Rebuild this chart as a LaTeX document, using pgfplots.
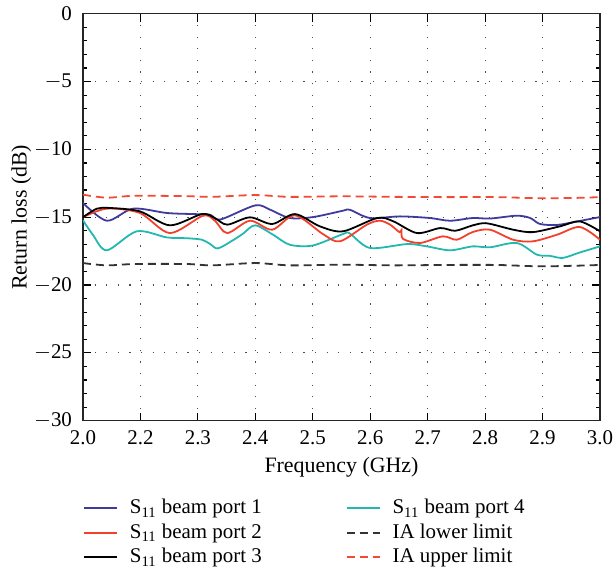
\documentclass[border=0pt]{standalone}
\usepackage{pgfplots}
\pgfplotsset{compat=1.18}
\usepackage{fontspec}
\setmainfont{Liberation Serif}
\definecolor{portone}{HTML}{3F3A9C}
\definecolor{porttwo}{HTML}{F2402B}
\definecolor{portfour}{HTML}{22B8B0}
\definecolor{lowlim}{HTML}{333333}
\definecolor{uplim}{HTML}{F24A33}

\begin{document}
\begin{tikzpicture}[trim right=(rt)]
\begin{axis}[
    scale only axis, width=258.5bp, height=203.5bp,
    xmin=2, xmax=3, ymin=-30, ymax=0,
    xtick={2,2.1111,2.2222,2.3333,2.4444,2.5556,2.6667,2.7778,2.8889,3},
    xticklabels={2.0,2.2,2.3,2.4,2.5,2.6,2.7,2.8,2.9,3.0},
    ytick={-30,-25,-20,-15,-10,-5,0},
    yticklabels={$-$30,$-$25,$-$20,$-$15,$-$10,$-$5,0},
    minor x tick num=4, minor y tick num=4,
    tick align=inside, tick pos=both,
    major tick length=4bp, minor tick length=2bp,
    every tick/.style={black, line width=0.6pt},
    axis line style={line width=0.7pt, black!85},
    grid=major,
    major grid style={black!70, line width=0.6pt, dash pattern=on 0.6bp off 5.2bp},
    tick label style={font=\fontsize{10.5}{12}\selectfont},
    xticklabel style={yshift=-1.5bp},
    yticklabel style={xshift=-2bp},
    label style={font=\fontsize{11}{13}\selectfont},
    xlabel={Frequency (GHz)},
    ylabel={Return loss (dB)},
    xlabel style={yshift=0.5bp},
    ylabel style={yshift=-5.5bp},
    every axis plot/.append style={line width=0.9pt, smooth, tension=0.5},
    legend columns=2,
    legend cell align=left,
    legend style={at={(-0.012,-0.173)}, anchor=north west, draw=none, fill=none,
      font=\fontsize{10.5}{12}\selectfont, row sep=-0.5bp,
      /tikz/every odd column/.append style={column sep=4bp},
      /tikz/every even column/.append style={column sep=40bp}},
    legend image code/.code={\draw[#1] (0bp,0bp) -- (16.5bp,0bp);},
]
% plots are listed so that the two-column legend reads column by column
\addplot[color=portone] coordinates {
(2.000,-13.95) (2.046,-15.26) (2.097,-14.37) (2.162,-14.69) (2.213,-14.77)
(2.246,-14.82) (2.265,-15.18) (2.333,-14.13) (2.362,-14.45) (2.400,-15.06)
(2.445,-14.99) (2.503,-14.52) (2.516,-14.45) (2.555,-15.06) (2.613,-14.94)
(2.671,-15.06) (2.710,-15.26) (2.754,-15.06) (2.787,-15.10) (2.839,-14.89)
(2.865,-15.06) (2.884,-15.50) (2.917,-15.57) (2.956,-15.31) (3.000,-14.99)};
\addlegendentry{S\textsubscript{11} beam port 1}
\addplot[color=portfour] coordinates {
(2.000,-15.23) (2.019,-16.29) (2.046,-17.44) (2.104,-16.04) (2.162,-16.49)
(2.201,-16.55) (2.230,-16.66) (2.246,-16.98) (2.261,-17.30) (2.290,-16.70)
(2.310,-16.20) (2.333,-15.60)
(2.368,-16.30) (2.400,-17.03) (2.445,-17.08) (2.503,-16.24) (2.516,-16.20)
(2.555,-17.27) (2.627,-16.98) (2.665,-17.15) (2.710,-17.44) (2.754,-17.15)
(2.787,-17.22) (2.839,-16.90) (2.878,-17.76) (2.903,-17.85) (2.928,-18.00)
(2.961,-17.60) (3.000,-17.15)};
\addlegendentry{S\textsubscript{11} beam port 4}
\addplot[color=porttwo] coordinates {
(2.000,-15.00) (2.046,-14.37) (2.110,-14.69) (2.168,-16.17) (2.232,-14.89)
(2.255,-15.26) (2.279,-16.17) (2.323,-15.26) (2.366,-15.92) (2.410,-14.86)
(2.464,-16.24) (2.497,-16.78) (2.549,-15.55) (2.574,-15.26) (2.594,-15.55)
(2.612,-16.10) (2.616,-15.95) (2.619,-16.60) (2.652,-16.90) (2.696,-16.41)
(2.723,-16.66) (2.754,-16.09) (2.787,-15.92) (2.832,-16.66) (2.870,-16.78)
(2.917,-16.29) (2.961,-15.72) (3.000,-16.66)};
\addlegendentry{S\textsubscript{11} beam port 2}
\addplot[color=lowlim, dash pattern=on 4bp off 2.5bp] coordinates {
(2.000,-18.38) (2.046,-18.55) (2.100,-18.45) (2.200,-18.45) (2.250,-18.55)
(2.333,-18.38) (2.400,-18.55) (2.500,-18.50) (2.600,-18.55) (2.700,-18.52)
(2.800,-18.52) (2.880,-18.62) (2.950,-18.58) (3.000,-18.52)};
\addlegendentry{IA lower limit}
\addplot[color=black] coordinates {
(2.000,-15.00) (2.027,-14.37) (2.052,-14.32) (2.110,-14.57) (2.168,-15.60)
(2.230,-14.77) (2.255,-15.06) (2.279,-15.55) (2.323,-15.01) (2.366,-15.50)
(2.410,-14.77) (2.458,-15.67) (2.503,-16.04) (2.569,-15.06) (2.600,-15.30)
(2.646,-16.17) (2.691,-15.80) (2.720,-16.00) (2.754,-15.60) (2.781,-15.45)
(2.832,-15.92) (2.870,-16.10) (2.923,-15.67) (2.961,-15.31) (3.000,-16.04)};
\addlegendentry{S\textsubscript{11} beam port 3}
\addplot[color=uplim, dash pattern=on 4bp off 2.5bp] coordinates {
(2.000,-13.34) (2.046,-13.56) (2.100,-13.42) (2.200,-13.45) (2.250,-13.50)
(2.333,-13.37) (2.400,-13.50) (2.500,-13.46) (2.600,-13.50) (2.700,-13.52)
(2.800,-13.52) (2.880,-13.60) (2.950,-13.58) (3.000,-13.52)};
\addlegendentry{IA upper limit}
\end{axis}
\path ([xshift=-41.5bp]current axis.south west);
\coordinate (rt) at ([xshift=6.5bp]current axis.south east);
\end{tikzpicture}
\end{document}
